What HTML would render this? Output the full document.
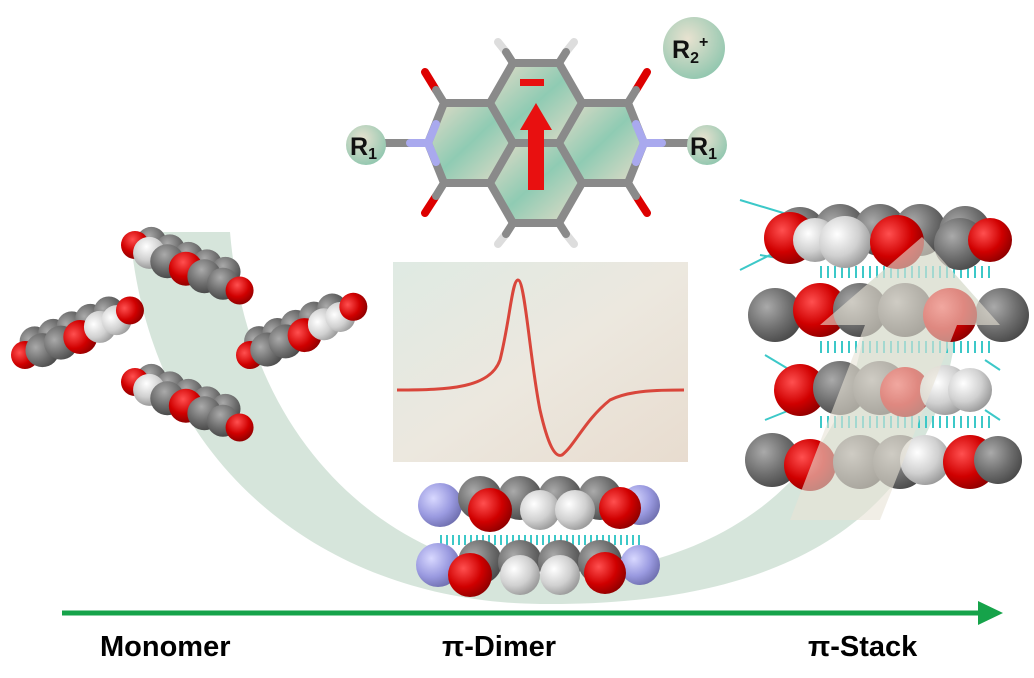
<!DOCTYPE html>
<html><head><meta charset="utf-8"><style>
html,body{margin:0;padding:0;background:#fff;}
svg{display:block;}
text{font-family:"Liberation Sans",Arial,sans-serif;font-weight:bold;}
</style></head><body>
<svg width="1034" height="678" viewBox="0 0 1034 678" xmlns="http://www.w3.org/2000/svg">
<defs>
<radialGradient id="gG" cx="35%" cy="35%" r="70%"><stop offset="0" stop-color="#aaa"/><stop offset="0.6" stop-color="#6e6e6e"/><stop offset="1" stop-color="#4a4a4a"/></radialGradient>
<radialGradient id="gR" cx="35%" cy="35%" r="70%"><stop offset="0" stop-color="#ff5050"/><stop offset="0.6" stop-color="#d00000"/><stop offset="1" stop-color="#900000"/></radialGradient>
<radialGradient id="gW" cx="35%" cy="35%" r="70%"><stop offset="0" stop-color="#ffffff"/><stop offset="0.6" stop-color="#d0d0d0"/><stop offset="1" stop-color="#999"/></radialGradient>
<radialGradient id="gB" cx="35%" cy="35%" r="70%"><stop offset="0" stop-color="#d8d8ff"/><stop offset="0.6" stop-color="#9a9ae0"/><stop offset="1" stop-color="#7070b0"/></radialGradient>
<radialGradient id="gBall" cx="40%" cy="35%" r="70%"><stop offset="0" stop-color="#e8e2d0"/><stop offset="1" stop-color="#8fc6ae"/></radialGradient>
<linearGradient id="ring" x1="0" y1="0" x2="1" y2="1"><stop offset="0" stop-color="#e6dcc8"/><stop offset="0.5" stop-color="#8fcbb3"/><stop offset="1" stop-color="#e6dcc8"/></linearGradient>
<linearGradient id="panel" x1="0" y1="0" x2="1" y2="1"><stop offset="0" stop-color="#dfeae3"/><stop offset="0.5" stop-color="#ece8df"/><stop offset="1" stop-color="#e8dccf"/></linearGradient>
<g id="monoA">
  <circle cx="14" cy="-9" r="15" fill="url(#gG)"/><circle cx="34" cy="-9" r="15" fill="url(#gG)"/><circle cx="54" cy="-9" r="15" fill="url(#gG)"/><circle cx="74" cy="-9" r="15" fill="url(#gG)"/><circle cx="94" cy="-9" r="15" fill="url(#gG)"/>
  <circle cx="0" cy="0" r="14" fill="url(#gR)"/><circle cx="16" cy="2" r="16" fill="url(#gW)"/><circle cx="36" cy="3" r="17" fill="url(#gG)"/><circle cx="56" cy="3" r="17" fill="url(#gR)"/><circle cx="76" cy="3" r="17" fill="url(#gG)"/><circle cx="96" cy="3" r="16" fill="url(#gG)"/><circle cx="114" cy="3" r="14" fill="url(#gR)"/>
</g>
<g id="monoB">
  <circle cx="14" cy="-9" r="15" fill="url(#gG)"/><circle cx="34" cy="-9" r="15" fill="url(#gG)"/><circle cx="54" cy="-9" r="15" fill="url(#gG)"/><circle cx="74" cy="-9" r="15" fill="url(#gG)"/><circle cx="94" cy="-9" r="15" fill="url(#gG)"/>
  <circle cx="0" cy="0" r="14" fill="url(#gR)"/><circle cx="18" cy="2" r="17" fill="url(#gG)"/><circle cx="38" cy="2" r="17" fill="url(#gG)"/><circle cx="58" cy="4" r="17" fill="url(#gR)"/><circle cx="80" cy="2" r="16" fill="url(#gW)"/><circle cx="98" cy="2" r="15" fill="url(#gW)"/><circle cx="114" cy="-2" r="14" fill="url(#gR)"/>
</g>
</defs>

<path d="M130,232 L230,232 C250,470 420,572 540,574 C690,576 840,500 865,325 L820,325 L922,237 L1000,325 L957,325 C930,560 720,606 540,604 C330,602 150,470 130,232 Z" fill="#c8dccf" opacity="0.75"/>

<use href="#monoA" transform="translate(135,245) rotate(22)"/>
<use href="#monoB" transform="translate(25,355) rotate(-22)"/>
<use href="#monoB" transform="translate(250,355) rotate(-24)"/>
<use href="#monoA" transform="translate(135,382) rotate(22)"/>

<rect x="393" y="262" width="295" height="200" fill="url(#panel)"/>
<path d="M397,390 C450,390 490,388 500,360 C510,320 512,280 518,280 C525,280 530,360 540,410 C548,445 555,458 562,455 C575,445 585,420 610,400 C630,390 660,390 684,390" fill="none" stroke="#d9463b" stroke-width="3"/>

<g>
 <path d="M440,540 L640,540" stroke="#3cc8c8" stroke-width="10" stroke-dasharray="2 4" fill="none"/>
 <circle cx="440" cy="505" r="22" fill="url(#gB)"/><circle cx="480" cy="498" r="22" fill="url(#gG)"/><circle cx="520" cy="498" r="22" fill="url(#gG)"/><circle cx="560" cy="498" r="22" fill="url(#gG)"/><circle cx="600" cy="498" r="22" fill="url(#gG)"/><circle cx="640" cy="505" r="20" fill="url(#gB)"/>
 <circle cx="490" cy="510" r="22" fill="url(#gR)"/><circle cx="540" cy="510" r="20" fill="url(#gW)"/><circle cx="575" cy="510" r="20" fill="url(#gW)"/><circle cx="620" cy="508" r="21" fill="url(#gR)"/>
 <circle cx="438" cy="565" r="22" fill="url(#gB)"/><circle cx="480" cy="562" r="22" fill="url(#gG)"/><circle cx="520" cy="562" r="22" fill="url(#gG)"/><circle cx="560" cy="562" r="22" fill="url(#gG)"/><circle cx="600" cy="562" r="22" fill="url(#gG)"/><circle cx="640" cy="565" r="20" fill="url(#gB)"/>
 <circle cx="470" cy="575" r="22" fill="url(#gR)"/><circle cx="520" cy="575" r="20" fill="url(#gW)"/><circle cx="560" cy="575" r="20" fill="url(#gW)"/><circle cx="605" cy="573" r="21" fill="url(#gR)"/>
</g>

<g>
 <path d="M820,272 L990,272 M820,347 L990,347 M820,422 L990,422" stroke="#3cc8c8" stroke-width="12" stroke-dasharray="2 5" fill="none"/>
 <path d="M740,200 L790,215 M740,270 L780,250 M760,255 L790,260 M765,355 L790,370 M765,420 L790,410 M985,360 L1000,370 M985,410 L1000,420" stroke="#3cc8c8" stroke-width="2"/>
 <circle cx="800" cy="233" r="26" fill="url(#gG)"/><circle cx="840" cy="230" r="26" fill="url(#gG)"/><circle cx="880" cy="230" r="26" fill="url(#gG)"/><circle cx="920" cy="230" r="26" fill="url(#gG)"/><circle cx="965" cy="232" r="26" fill="url(#gG)"/>
 <circle cx="790" cy="238" r="26" fill="url(#gR)"/><circle cx="815" cy="240" r="22" fill="url(#gW)"/><circle cx="845" cy="242" r="26" fill="url(#gW)"/><circle cx="897" cy="242" r="27" fill="url(#gR)"/><circle cx="960" cy="244" r="26" fill="url(#gG)"/><circle cx="990" cy="240" r="22" fill="url(#gR)"/>
 <circle cx="775" cy="315" r="27" fill="url(#gG)"/><circle cx="1002" cy="315" r="27" fill="url(#gG)"/><circle cx="820" cy="310" r="27" fill="url(#gR)"/><circle cx="860" cy="310" r="27" fill="url(#gG)"/><circle cx="905" cy="310" r="27" fill="url(#gG)"/><circle cx="950" cy="315" r="27" fill="url(#gR)"/>
 <circle cx="800" cy="390" r="26" fill="url(#gR)"/><circle cx="840" cy="388" r="27" fill="url(#gG)"/><circle cx="880" cy="388" r="27" fill="url(#gG)"/><circle cx="905" cy="392" r="25" fill="url(#gR)"/><circle cx="945" cy="390" r="25" fill="url(#gW)"/><circle cx="970" cy="390" r="22" fill="url(#gW)"/>
 <circle cx="772" cy="460" r="27" fill="url(#gG)"/><circle cx="810" cy="465" r="26" fill="url(#gR)"/><circle cx="860" cy="462" r="27" fill="url(#gG)"/><circle cx="900" cy="462" r="27" fill="url(#gG)"/><circle cx="925" cy="460" r="25" fill="url(#gW)"/><circle cx="970" cy="462" r="27" fill="url(#gR)"/><circle cx="998" cy="460" r="24" fill="url(#gG)"/>
 <path d="M790,520 L865,325 L820,325 L922,237 L1000,325 L957,325 L880,520 Z" fill="#e8e3d6" opacity="0.6"/>
</g>

<g stroke-linecap="round">
 <polygon points="513,63 559,63 582,103 559,143 513,143 490,103" fill="url(#ring)"/>
 <polygon points="513,143 559,143 582,183 559,223 513,223 490,183" fill="url(#ring)"/>
 <polygon points="490,103 513,143 490,183 444,183 428,143 444,103" fill="url(#ring)"/>
 <polygon points="582,103 628,103 644,143 628,183 582,183 559,143" fill="url(#ring)"/>
 <g stroke="#8a8a8a" stroke-width="8" fill="none" stroke-linejoin="round">
  <polygon points="513,63 559,63 582,103 559,143 513,143 490,103"/>
  <polygon points="513,143 559,143 582,183 559,223 513,223 490,183"/>
  <path d="M490,103 L444,103 L428,143 L444,183 L490,183"/>
  <path d="M582,103 L628,103 L644,143 L628,183 L582,183"/>
  <path d="M428,143 L385,143 M644,143 L690,143"/>
 </g>
 <g stroke="#a9a9ee" stroke-width="8" fill="none"><path d="M436,124 L428,143 L436,162 M636,124 L644,143 L636,162 M428,143 L410,143 M644,143 L662,143"/></g>
 <g stroke="#d00" stroke-width="8"><path d="M436,90 L425,72 M436,196 L425,213 M636,90 L647,72 M636,196 L647,213"/></g>
 <g stroke="#ddd" stroke-width="8"><path d="M506,52 L498,42 M566,52 L574,42 M506,234 L498,244 M566,234 L574,244"/></g>
 <g stroke="#8a8a8a" stroke-width="8"><path d="M513,63 L506,52 M559,63 L566,52 M513,223 L506,234 M559,223 L566,234 M444,103 L436,90 M444,183 L436,196 M628,103 L636,90 M628,183 L636,196"/></g>
 <rect x="520" y="79" width="24" height="7" fill="#e81010"/>
 <path d="M528,190 L528,130 L520,130 L536,103 L552,130 L544,130 L544,190 Z" fill="#e81010"/>
 <circle cx="366" cy="145" r="20" fill="url(#gBall)"/>
 <circle cx="707" cy="145" r="20" fill="url(#gBall)"/>
 <circle cx="694" cy="48" r="31" fill="url(#gBall)"/>
 <text x="350" y="155" font-size="25" fill="#111">R<tspan font-size="16" dy="4">1</tspan></text>
 <text x="690" y="155" font-size="25" fill="#111">R<tspan font-size="16" dy="4">1</tspan></text>
 <text x="672" y="58" font-size="25" fill="#111">R<tspan font-size="16" dy="5">2</tspan><tspan font-size="16" dy="-16">+</tspan></text>
</g>

<line x1="62" y1="613" x2="985" y2="613" stroke="#16a34a" stroke-width="5"/>
<polygon points="978,601 1003,613 978,625" fill="#16a34a"/>

<text x="100" y="656" font-size="29" fill="#000">Monomer</text>
<text x="442" y="656" font-size="29" fill="#000">π-Dimer</text>
<text x="808" y="656" font-size="29" fill="#000">π-Stack</text>
</svg>
</body></html>
